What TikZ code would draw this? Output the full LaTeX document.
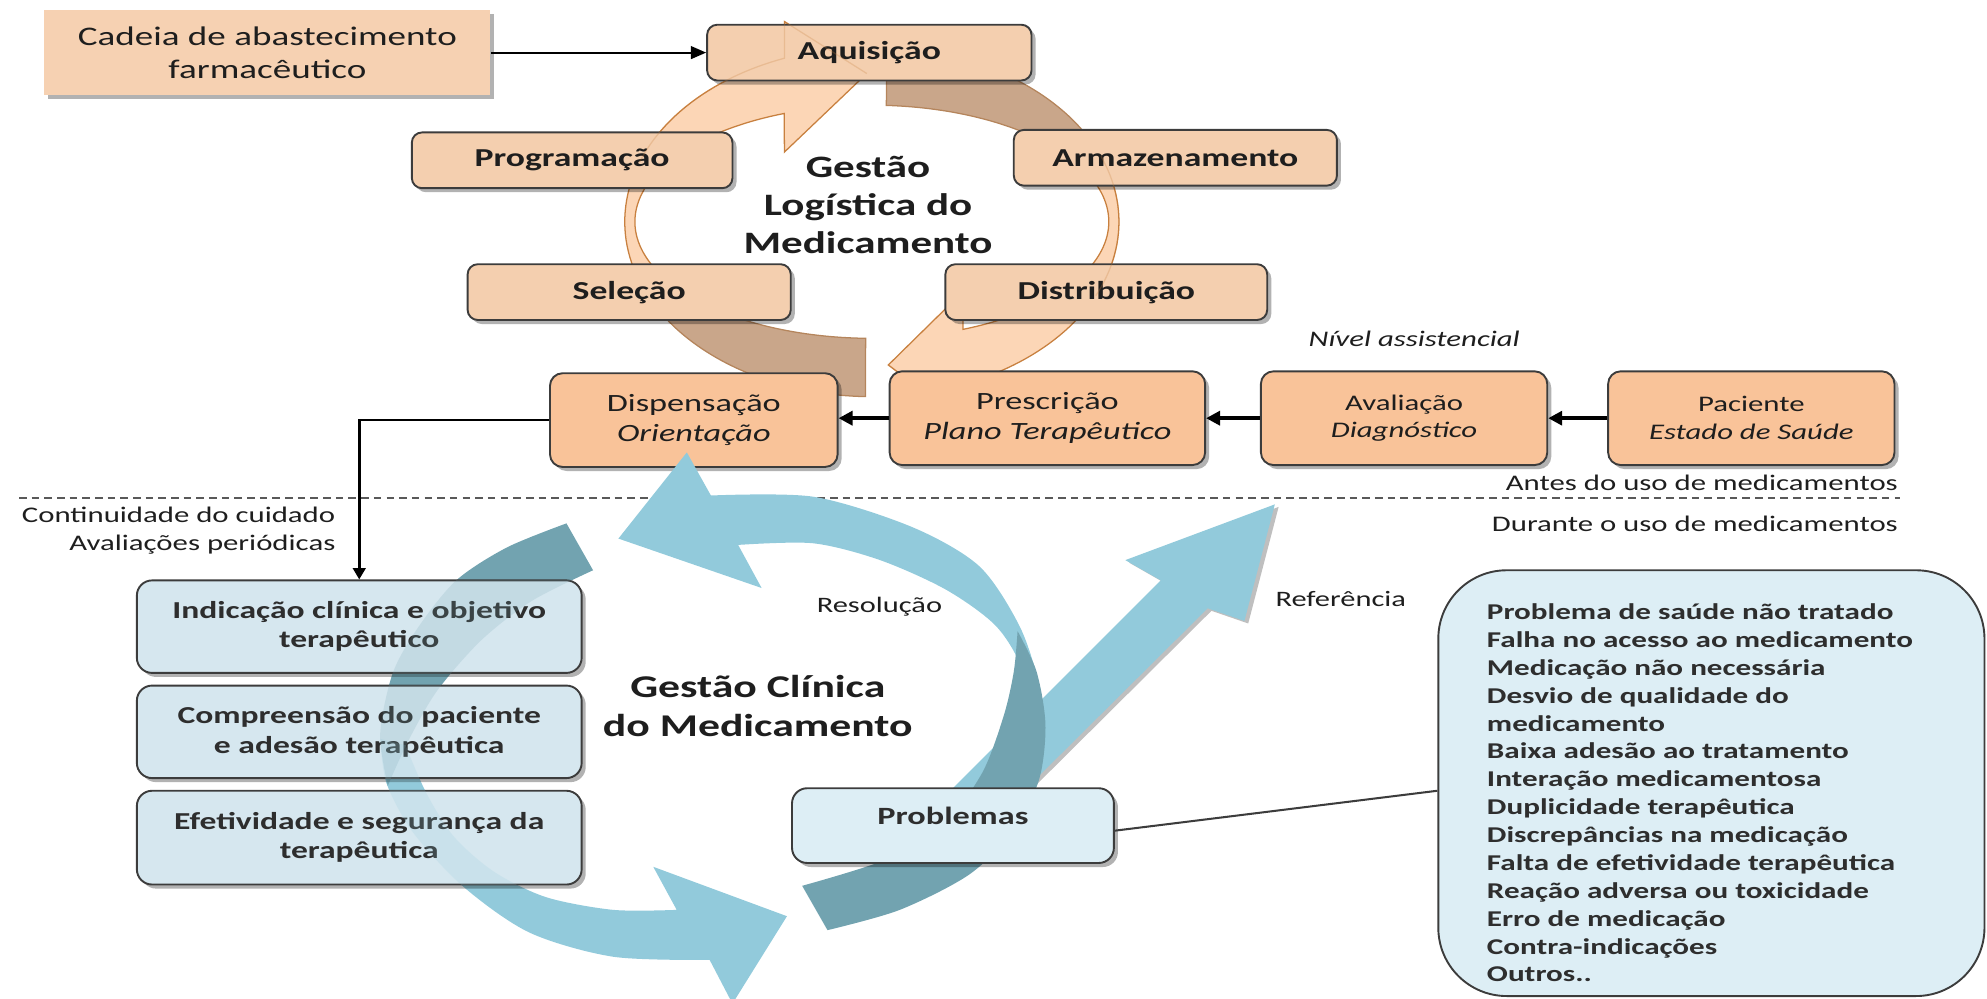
\documentclass[tikz,border=0pt]{standalone}
\usepackage{fontspec}
\setmainfont{Carlito}[FakeStretch=1.38]
\usetikzlibrary{arrows.meta,shadows,calc}
\definecolor{topfill}{HTML}{F4CFAF}
\definecolor{cadfill}{HTML}{F6D1B2}
\definecolor{orfill}{HTML}{F9C399}
\definecolor{larrow}{HTML}{FCD6B6}
\definecolor{larrowline}{HTML}{C8803F}
\definecolor{barrow}{HTML}{C9A68A}
\definecolor{barrowline}{HTML}{B5855C}
\definecolor{lblue}{HTML}{92CADB}
\definecolor{dteal}{HTML}{72A3B0}
\definecolor{bluefill}{HTML}{D6E7EF}
\definecolor{bluefill2}{HTML}{DDEEF5}
\definecolor{txt}{HTML}{1E1E1E}
\definecolor{txtb}{HTML}{2E2E2E}
\definecolor{bord}{HTML}{3C3C3C}
\newcommand\myfs[2]{\fontsize{#1}{#2}\selectfont}
\begin{document}
\begin{tikzpicture}[x=0.5pt,y=-0.5pt,
  shadowed/.style={drop shadow={shadow xshift=1.6pt,shadow yshift=-1.6pt,opacity=0.3,fill=black}},
  topbox/.style={shadowed,draw=bord,line width=0.75pt,rounded corners=4pt,fill=topfill,inner sep=0pt,text=txt,font=\bfseries\myfs{10.2}{12.4},minimum height=22pt},
  orbox/.style={shadowed,draw=bord,line width=0.75pt,rounded corners=5pt,fill=orfill,inner sep=0pt,align=center,text=txt,minimum height=37pt},
  bluebox/.style={shadowed,draw=bord,line width=0.75pt,rounded corners=6pt,fill=bluefill,inner sep=0pt,align=center,text=txtb,font=\bfseries\myfs{9.6}{11.5},minimum width=175.5pt,minimum height=36.5pt},
  lbl/.style={inner sep=0pt,text=txt,font=\myfs{8.8}{11}},
  thickarrow/.style={line width=1.6pt,-{Triangle[length=5.5pt,width=5.5pt]}},
  medarrow/.style={line width=1pt,-{Triangle[length=4.5pt,width=5pt]}},
  thinarrow/.style={line width=0.8pt,-{Triangle[length=6pt,width=5pt]}},
  larrowst/.style={fill=larrow,draw=larrowline,line width=0.5pt},
  barrowst/.style={fill=barrow,draw=barrowline,line width=0.5pt},
  dashline/.style={dash pattern=on 3pt off 2pt,line width=0.6pt,draw=black!65}
]
\useasboundingbox (0,0) rectangle (1568,788);

% ---------- top cycle arrows ----------
\filldraw[larrowst] plot[domain=157:249.3,samples=50] ({688+195*cos(\x)},{175+138*sin(\x)})
  -- (619,17) -- (684,58) -- (619,120)
  -- plot[domain=248.3:157,samples=50] ({688+187*cos(\x)},{175+92*sin(\x)}) -- cycle;
\filldraw[larrowst] plot[domain=-22:68,samples=50] ({688+195*cos(\x)},{175+138*sin(\x)})
  -- (760,333) -- (701,288) -- (760,230)
  -- plot[domain=67.4:-22,samples=50] ({688+187*cos(\x)},{175+92*sin(\x)}) -- cycle;
\filldraw[barrowst] plot[domain=-86.5:-28,samples=40] ({688+195*cos(\x)},{175+138*sin(\x)})
  -- ({688+191*cos(-16)},{175+115*sin(-16)})
  -- plot[domain=-28:-86.5,samples=40] ({688+187*cos(\x)},{175+92*sin(\x)}) -- cycle;
\filldraw[barrowst] plot[domain=91.5:148,samples=40] ({688+195*cos(\x)},{175+138*sin(\x)})
  -- ({688+191*cos(160)},{175+115*sin(160)})
  -- plot[domain=148:91.5,samples=40] ({688+187*cos(\x)},{175+92*sin(\x)}) -- cycle;

% ---------- top boxes ----------
\node[shadowed,fill=cadfill,minimum width=176pt,minimum height=33.5pt,inner sep=0pt,align=center,text=txt,font=\myfs{10.6}{13}] (cad) at (211,41.5) {Cadeia de abastecimento\\farmacêutico};
\node[topbox,minimum width=128pt] (aqu) at (686,41.5) {Aquisição};
\node[topbox,minimum width=126.5pt] (pro) at (451.5,126.5) {Programação};
\node[topbox,minimum width=127.5pt] (arm) at (927.5,124.5) {Armazenamento};
\node[topbox,minimum width=127.5pt] (sel) at (496.5,230.5) {Seleção};
\node[topbox,minimum width=127pt] (dis) at (873,230.5) {Distribuição};
% faint traces of the cycle through the boxes
\draw[larrowline,opacity=0.25,line width=0.5pt] plot[domain=200:249.3,samples=30] ({688+195*cos(\x)},{175+138*sin(\x)}) -- (619,17) -- (684,58);
\draw[larrowline,opacity=0.25,line width=0.5pt] plot[domain=-22:25,samples=30] ({688+195*cos(\x)},{175+138*sin(\x)});
\draw[larrowline,opacity=0.25,line width=0.5pt] (760,333) -- (701,288);
\node[inner sep=0pt,align=center,text=txt,font=\bfseries\myfs{12.3}{15}] (glog) at (685,162) {Gestão\\Logística do\\Medicamento};

\draw[thinarrow] (cad.east) -- (cad.east -| aqu.west);

% ---------- process row ----------
\node[orbox,minimum width=113.5pt,font=\myfs{9.8}{12}] (disp) at (547.5,331.5) {Dispensação\\\textit{Orientação}};
\node[orbox,minimum width=124.5pt,font=\myfs{9.8}{12}] (pres) at (826.5,330) {Prescrição\\\textit{Plano Terapêutico}};
\node[orbox,minimum width=113pt,font=\myfs{8.8}{11}] (aval) at (1108,330) {Avaliação\\\textit{Diagnóstico}};
\node[orbox,minimum width=113pt,font=\myfs{8.8}{11}] (pac) at (1382,330) {Paciente\\\textit{Estado de Saúde}};
\draw[thickarrow] (pac.west) -- (aval.east);
\draw[thickarrow] (aval.west) -- (aval.west -| pres.east);
\draw[thickarrow] (pres.west) -- (pres.west -| disp.east);

\node[lbl,font=\itshape\myfs{8.8}{11}] (nivel) at (1116,267) {Nível assistencial};
\node[lbl,anchor=east] (antes) at (1498,381) {Antes do uso de medicamentos};
\node[lbl,anchor=east] (durante) at (1498,413) {Durante o uso de medicamentos};
\node[lbl,anchor=east,align=right] (cont) at (265,419) {Continuidade do cuidado\\Avaliações periódicas};

\coordinate (dl) at (15,393);
\coordinate (dr) at (1499,393);
\draw[dashline] (dl) -- (dr);

% ---------- bottom cycle arrows ----------
\fill[black!25,shift={(3,2)}] (740,634) -- (916,458) -- (888,442) -- (1006,398) -- (982,490) -- (953,480) -- (799,633) -- cycle;
\fill[lblue] (740,634) -- (916,458) -- (888,442) -- (1006,398) -- (982,490) -- (953,480) -- (799,633) -- cycle;
\fill[lblue] (542,357) -- (488,425) -- (601,464) -- (582.5,430)
  -- plot[smooth] coordinates {(582.5,430) (641.6,428.7) (694.5,442) (747,465.6) (786.5,494.6) (807.5,531) (815,585)}
  -- plot[smooth] coordinates {(826,585) (821,544) (805,495) (773,447) (720,416) (642,392) (561,391)} -- cycle;
\path[save path=\lowarrow] plot[smooth] coordinates {(300,583) (305,618) (326,657) (366,700) (418,736) (484,755) (560,757.5)}
  -- (578,792) -- (621,723) -- (515.5,684) -- (534,718)
  -- plot[smooth] coordinates {(534,718) (484,718) (431,708) (390,688) (358,660) (336,625) (320,588)} -- cycle;
\path[save path=\darkleft] plot[smooth] coordinates {(447,413) (400,432) (360,458) (330,495) (310,531) (300,579) (306,620)}
  -- plot[smooth] coordinates {(306,620) (322,585) (345,545) (380,505) (420,474) (468,450)} -- cycle;
\fill[lblue,use path=\lowarrow];
\fill[dteal,use path=\darkleft];
\fill[dteal] plot[smooth] coordinates {(803,498) (818,530) (825,572) (820,615) (800,655) (765,690) (710,718) (653,734)}
  -- (633,699)
  -- plot[smooth] coordinates {(633,699) (700,678) (745,650) (775,610) (792,565) (800,530) (803,498)} -- cycle;

% ---------- bottom boxes ----------
\node[bluebox] (ind) at (283.5,494.5) {Indicação clínica e objetivo\\terapêutico};
\node[bluebox] (comp) at (283.5,577.5) {Compreensão do paciente\\e adesão terapêutica};
\node[bluebox,minimum height=37pt] (efet) at (283.5,661) {Efetividade e segurança da\\terapêutica};
\begin{scope}
\clip (108,458) rectangle (459,698);
\fill[lblue,opacity=0.18,use path=\lowarrow];
\fill[dteal,opacity=0.18,use path=\darkleft];
\end{scope}
\draw[medarrow] (disp.west) -| (ind.north);

\node[bluebox,fill=bluefill2,minimum width=127pt,minimum height=29.5pt] (prob) at (752,651.5) {};
\node[inner sep=0pt,text=txtb,font=\bfseries\myfs{9.8}{12}] (probt) at (752,644) {Problemas};

\node[draw=bord,line width=0.75pt,rounded corners=27pt,fill=bluefill2,minimum width=215.5pt,minimum height=168pt,inner sep=0pt] (list) at (1350.5,618) {};
\node[anchor=north west,inner sep=0pt,align=left,text=txtb,font=\bfseries\myfs{8.9}{11}] (listtxt) at (1173,476) {Problema de saúde não tratado\\Falha no acesso ao medicamento\\Medicação não necessária\\Desvio de qualidade do\\medicamento\\Baixa adesão ao tratamento\\Interação medicamentosa\\Duplicidade terapêutica\\Discrepâncias na medicação\\Falta de efetividade terapêutica\\Reação adversa ou toxicidade\\Erro de medicação\\Contra-indicações\\Outros..};
\draw[line width=0.8pt,draw=bord] ([yshift=-2pt]prob.east) -- ([yshift=-3pt]list.west);

\node[inner sep=0pt,align=center,text=txt,font=\bfseries\myfs{12.5}{15.5}] (gcli) at (598,557) {Gestão Clínica\\do Medicamento};
\node[lbl,font=\myfs{8.7}{11}] (reso) at (694,479) {Resolução};
\node[lbl,font=\myfs{8.7}{11}] (refe) at (1058,473) {Referência};
\end{tikzpicture}
\end{document}
